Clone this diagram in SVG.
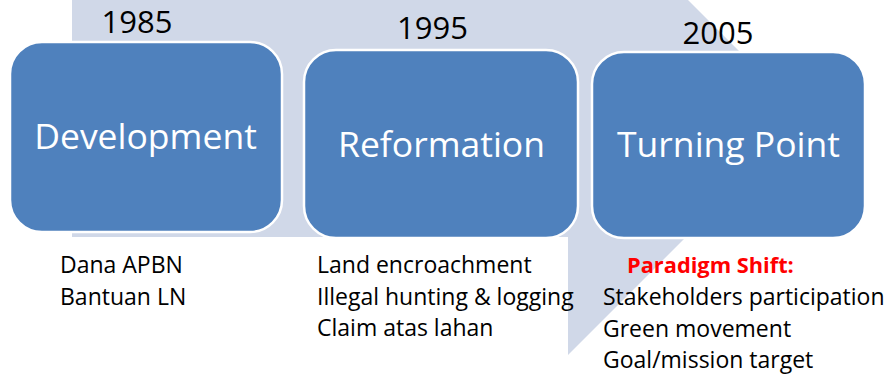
<svg xmlns="http://www.w3.org/2000/svg" width="889" height="375" viewBox="0 0 889 375">
<style>
.box{fill:#4f81bd;stroke:#ffffff;stroke-width:2.5}
.title{font-family:"Open Sans","Liberation Sans",sans-serif;font-size:35.5px;fill:#ffffff;text-anchor:middle}
.year{font-family:"Open Sans","Liberation Sans",sans-serif;font-size:31px;fill:#000000;text-anchor:middle}
.note{font-family:"Open Sans","Liberation Sans",sans-serif;font-size:23px;fill:#000000}
.red{fill:#ff0000;font-weight:bold;font-size:21.8px}
</style>
<rect width="889" height="375" fill="#ffffff"/>
<g id="connectors">
<polygon points="72,-10 568,-10 568,-120 805.5,117.5 568,355 568,237 72,237" fill="#d0d8e8"/>
</g>
<g id="node-development">
<rect class="box" x="10" y="42" width="272" height="190" rx="32" ry="32"/>
<text class="title" x="145.5" y="149">Development</text>
<text class="year" x="137" y="33">1985</text>
<text class="note" x="60" y="273">Dana APBN</text>
<text class="note" x="60" y="305">Bantuan LN</text>
</g>
<g id="node-reformation">
<rect class="box" x="304" y="50" width="274" height="188" rx="32" ry="32"/>
<text class="title" x="441.5" y="157">Reformation</text>
<text class="year" x="432.5" y="39">1995</text>
<text class="note" x="317" y="273">Land encroachment</text>
<text class="note" x="317" y="305">Illegal hunting &amp; logging</text>
<text class="note" x="317" y="336">Claim atas lahan</text>
</g>
<g id="node-turning-point">
<rect class="box" x="592" y="52" width="273" height="186" rx="32" ry="32"/>
<text class="title" x="728.5" y="157">Turning Point</text>
<text class="year" x="718" y="44">2005</text>
<text class="note red" x="627" y="273">Paradigm Shift:</text>
<text class="note" x="603" y="305">Stakeholders participation</text>
<text class="note" x="603" y="337">Green movement</text>
<text class="note" x="603" y="368">Goal/mission target</text>
</g>
</svg>
